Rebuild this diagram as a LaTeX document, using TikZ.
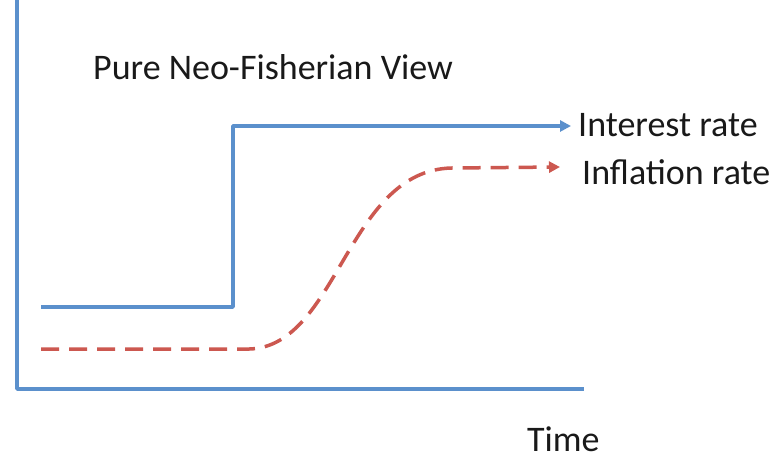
\documentclass[tikz,border=0pt]{standalone}
\usepackage{fontspec}
\setmainfont{Carlito}
\usetikzlibrary{arrows.meta}
\definecolor{axisblue}{RGB}{91,144,204}
\definecolor{infred}{RGB}{204,88,80}
\begin{document}
\begin{tikzpicture}[x=1pt,y=-1pt,
  lbl/.style={anchor=base west,inner sep=0pt,font=\fontsize{36}{40}\selectfont,text=black!90},
  axisline/.style={draw=axisblue,line width=3.5pt,line join=round},
  rateline/.style={draw=axisblue,line width=3.5pt,line join=round,-{Triangle[length=11pt,width=11pt]}},
  infline/.style={draw=infred,line width=3.5pt,dash pattern=on 18pt off 10pt,-{Triangle[length=11pt,width=11pt]}}]
\useasboundingbox (0,0) rectangle (774,457);
% axes
\coordinate (ytop) at (17,0);
\coordinate (origin) at (17,389);
\coordinate (xend) at (584,389);
\draw[axisline] (ytop) -- (origin) -- (xend);
% interest rate
\coordinate (r0) at (41,307);
\coordinate (r1) at (233,307);
\coordinate (r2) at (233,126);
\coordinate (r3) at (571,126);
\draw[rateline] (r0) -- (r1) -- (r2) -- (r3);
% inflation rate
\coordinate (i0) at (41,349);
\coordinate (i1) at (245,349);
\coordinate (i2) at (452,168);
\coordinate (i3) at (560,167);
\draw[infline] (i0) -- (i1) .. controls (338,352) and (345,170) .. (i2) -- (i3);
% labels
\node[lbl] (title) at (93,80) {Pure Neo-Fisherian View};
\node[lbl] (interest) at (578,137) {Interest rate};
\node[lbl] (inflation) at (582,185) {Inflation rate};
\node[lbl] (time) at (527,451) {Time};
\end{tikzpicture}
\end{document}
